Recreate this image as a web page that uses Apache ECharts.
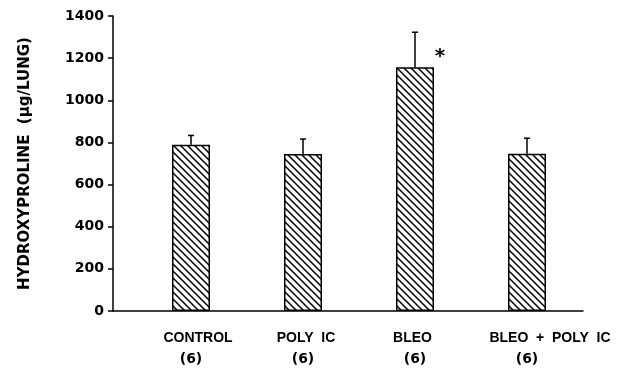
<!DOCTYPE html>
<html>
<head>
<meta charset="utf-8">
<script src="https://cdn.jsdelivr.net/npm/echarts@6/dist/echarts.min.js"></script>
<style>html,body{margin:0;padding:0;background:#fff;}#c{width:626px;height:390px;}</style>
</head>
<body>
<div id="c"></div>
<script>
const categories = ['CONTROL', 'POLY  IC', 'BLEO', 'BLEO  +  POLY  IC'];
const counts = ['(6)', '(6)', '(6)', '(6)'];
const means = [789, 745, 1157, 746];
const errors = [44, 71, 166, 74];
const significant = [false, false, true, false];
const yTicks = [0, 200, 400, 600, 800, 1000, 1200, 1400];

function makeHatch() {
  const s = 7;
  const c = document.createElement('canvas');
  c.width = s; c.height = s;
  const g = c.getContext('2d');
  g.fillStyle = '#fff'; g.fillRect(0, 0, s, s);
  g.strokeStyle = '#000'; g.lineWidth = 1.5;
  g.beginPath();
  g.moveTo(-2, -2); g.lineTo(s + 2, s + 2);
  g.moveTo(-2, s - 2); g.lineTo(2, s + 2);
  g.moveTo(s - 2, -2); g.lineTo(s + 2, 2);
  g.stroke();
  return c;
}
const hatch = { image: makeHatch(), repeat: 'repeat' };

const labelShift = [14, 6, -5, 46];
const rich = {};
labelShift.forEach((p, i) => {
  rich['n' + i] = {
    fontFamily: 'Liberation Sans', fontWeight: 'bold', fontSize: 14, color: '#000',
    lineHeight: 21,
    padding: p >= 0 ? [0, 0, 0, p] : [0, -p, 0, 0]
  };
});
rich.c = { fontFamily: 'DejaVu Sans', fontWeight: 'bold', fontSize: 14, color: '#000', lineHeight: 21 };

const chart = echarts.init(document.getElementById('c'), null, { renderer: 'canvas' });
chart.setOption({
  backgroundColor: '#fff',
  animation: false,
  grid: [
    { left: 113, right: 43, top: 16, bottom: 79 },
    { left: 135, right: 43, top: 16, bottom: 79 }
  ],
  xAxis: [
    { gridIndex: 0, type: 'value', min: 0, max: 1,
      axisLine: { show: true, lineStyle: { color: '#000', width: 1.5 } },
      axisTick: { show: false }, axisLabel: { show: false }, splitLine: { show: false } },
    { gridIndex: 1, type: 'category', data: categories,
      axisLine: { show: false }, axisTick: { show: false },
      axisLabel: {
        margin: 17, interval: 0,
        formatter: (v, i) => '{n' + i + '|' + v + '}\n{c|' + counts[i] + '}',
        rich: rich
      } }
  ],
  yAxis: [
    { gridIndex: 0, type: 'value', min: yTicks[0], max: yTicks[yTicks.length - 1], interval: 200,
      axisLine: { show: true, lineStyle: { color: '#000', width: 1.5 } },
      axisTick: { show: true, length: 5, lineStyle: { color: '#000', width: 1.5 } },
      splitLine: { show: false },
      axisLabel: { margin: 9, color: '#000', fontFamily: 'DejaVu Sans', fontWeight: 'bold', fontSize: 14,
        formatter: v => String(v) },
      name: 'HYDROXYPROLINE  (\u03bcg/LUNG)', nameLocation: 'middle', nameGap: 80,
      nameTextStyle: { color: '#000', fontFamily: 'DejaVu Sans', fontWeight: 'bold', fontSize: 15 } },
    { gridIndex: 1, type: 'value', min: yTicks[0], max: yTicks[yTicks.length - 1], show: false }
  ],
  series: [
    { type: 'bar', xAxisIndex: 1, yAxisIndex: 1, barWidth: 38,
      data: means.map((v, i) => significant[i] ? {
        value: v,
        label: { show: true, position: 'top', formatter: '*', offset: [25, 5],
          fontFamily: 'DejaVu Sans', fontWeight: 'bold', fontSize: 20, color: '#000' }
      } : v),
      itemStyle: { color: hatch, borderColor: '#000', borderWidth: 1.5 } },
    { type: 'custom', xAxisIndex: 1, yAxisIndex: 1, z: 5,
      data: means.map((v, i) => [i, v, v + errors[i]]),
      renderItem: function (params, api) {
        const base = api.coord([api.value(0), api.value(1)]);
        const top = api.coord([api.value(0), api.value(2)]);
        const hw = 3;
        return { type: 'group', children: [
          { type: 'line', shape: { x1: base[0], y1: base[1], x2: top[0], y2: top[1] },
            style: { stroke: '#000', lineWidth: 1.5 } },
          { type: 'line', shape: { x1: top[0] - hw, y1: top[1], x2: top[0] + hw, y2: top[1] },
            style: { stroke: '#000', lineWidth: 1.5 } }
        ] };
      } }
  ]
});
</script>
</body>
</html>
